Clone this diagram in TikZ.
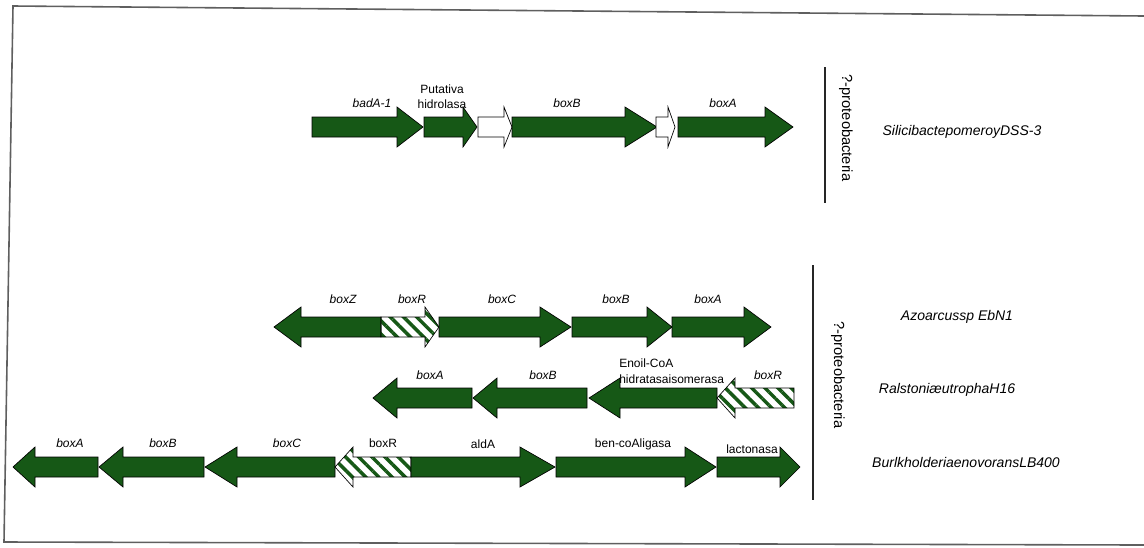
\documentclass[tikz,border=0pt]{standalone}
\usepackage{fontspec}
\setmainfont{Liberation Sans}
\usetikzlibrary{patterns.meta}
\definecolor{genegreen}{RGB}{22,88,22}
\definecolor{framegray}{RGB}{95,95,95}
\newcommand{\genearrow}[5]{% tail, headbase, tip, ycenter, style
  \draw[#5] (#1,#4-10) -- (#2,#4-10) -- (#2,#4-20) -- (#3,#4) -- (#2,#4+20) -- (#2,#4+10) -- (#1,#4+10) -- cycle;}
\begin{document}
\begin{tikzpicture}[x=0.75pt,y=-0.75pt,
  ggreen/.style={fill=genegreen,draw=black,line width=0.5pt},
  gwhite/.style={fill=white,draw=black,line width=0.5pt},
  ghatch/.style={pattern={Lines[angle=-45,distance=7pt,line width=2.6pt]},pattern color=genegreen,draw=black,line width=0.5pt},
  glabel/.style={font=\fontsize{9}{10}\selectfont\itshape,inner sep=0pt},
  plabel/.style={font=\fontsize{9}{11}\selectfont,inner sep=0pt},
  species/.style={font=\fontsize{10.5}{12}\selectfont\itshape,inner sep=0pt},
  taxon/.style={font=\fontsize{11}{12}\selectfont,inner sep=0pt,rotate=-90},
  frame/.style={draw=framegray,line width=1.2pt},
  divider/.style={draw=black!85,line width=0.8pt}]
\useasboundingbox (0,0) rectangle (1144,547);
% frame
\coordinate (f1) at (13,6);
\coordinate (f2) at (1144,16);
\coordinate (f3) at (4,542);
\coordinate (f4) at (1144,545);
\draw[frame] (f2) -- (f1) -- (f3) -- (f4);
% ---------- row 1 ----------
\genearrow{312}{397}{423}{127}{ggreen}
\genearrow{424}{463}{477}{127}{ggreen}
\genearrow{478}{504}{512}{127}{gwhite}
\genearrow{512}{625}{657}{127}{ggreen}
\genearrow{656}{668}{675}{127}{gwhite}
\genearrow{678}{765}{793}{127}{ggreen}
\node[glabel] (l1a) at (372,103) {badA-1};
\node[plabel,align=center] (l1b) at (442,97) {Putativa\\hidrolasa};
\node[glabel] (l1c) at (567,103) {boxB};
\node[glabel] (l1d) at (723,103) {boxA};
% ---------- row 2 ----------
\genearrow{381}{301}{274}{327}{ggreen}
\genearrow{381}{425}{439}{327}{ghatch}
\genearrow{439}{540}{571}{327}{ggreen}
\genearrow{572}{647}{672}{327}{ggreen}
\genearrow{672}{744}{771}{327}{ggreen}
\node[glabel] (l2a) at (343,299) {boxZ};
\node[glabel] (l2b) at (412,299) {boxR};
\node[glabel] (l2c) at (502,299) {boxC};
\node[glabel] (l2d) at (616,299) {boxB};
\node[glabel] (l2e) at (708,299) {boxA};
% ---------- row 3 ----------
\genearrow{472}{397}{373}{398}{ggreen}
\genearrow{587}{497}{473}{398}{ggreen}
\genearrow{717}{620}{589}{398}{ggreen}
\genearrow{794}{735}{717}{398}{ghatch}
\node[glabel] (l3a) at (430,375) {boxA};
\node[glabel] (l3b) at (543,375) {boxB};
\node[plabel,align=left,anchor=west,font=\fontsize{9}{12}\selectfont] (l3c) at (619,371) {Enoil-CoA\\hidratasaisomerasa};
\node[glabel] (l3d) at (768,375) {boxR};
% ---------- row 4 ----------
\genearrow{98}{35}{13}{467}{ggreen}
\genearrow{204}{123}{99}{467}{ggreen}
\genearrow{335}{237}{205}{467}{ggreen}
\genearrow{411}{353}{335}{467}{ghatch}
\genearrow{411}{520}{555}{467}{ggreen}
\genearrow{556}{685}{716}{467}{ggreen}
\genearrow{717}{780}{800}{467}{ggreen}
\node[glabel] (l4a) at (70,443) {boxA};
\node[glabel] (l4b) at (163,443) {boxB};
\node[glabel] (l4c) at (287,443) {boxC};
\node[plabel] (l4d) at (383,443) {boxR};
\node[plabel] (l4e) at (483,444) {aldA};
\node[plabel] (l4f) at (633,444) {ben-coAligasa};
\node[plabel] (l4g) at (752,449) {lactonasa};
% ---------- right side ----------
\coordinate (d1t) at (825,67);
\coordinate (d1b) at (825,203);
\draw[divider] (d1t) -- (d1b);
\node[taxon] (t1) at (846,128) {?-proteobacteria};
\node[species] (s1) at (962,132) {SilicibactepomeroyDSS-3};
\coordinate (d2t) at (813,265);
\coordinate (d2b) at (813,500);
\draw[divider] (d2t) -- (d2b);
\node[taxon] (t2) at (838,375) {?-proteobacteria};
\node[species] (s2) at (957,317) {Azoarcussp EbN1};
\node[species] (s3) at (947,390) {RalstoniæutrophaH16};
\node[species] (s4) at (966,462) {BurlkholderiaenovoransLB400};
\end{tikzpicture}
\end{document}
